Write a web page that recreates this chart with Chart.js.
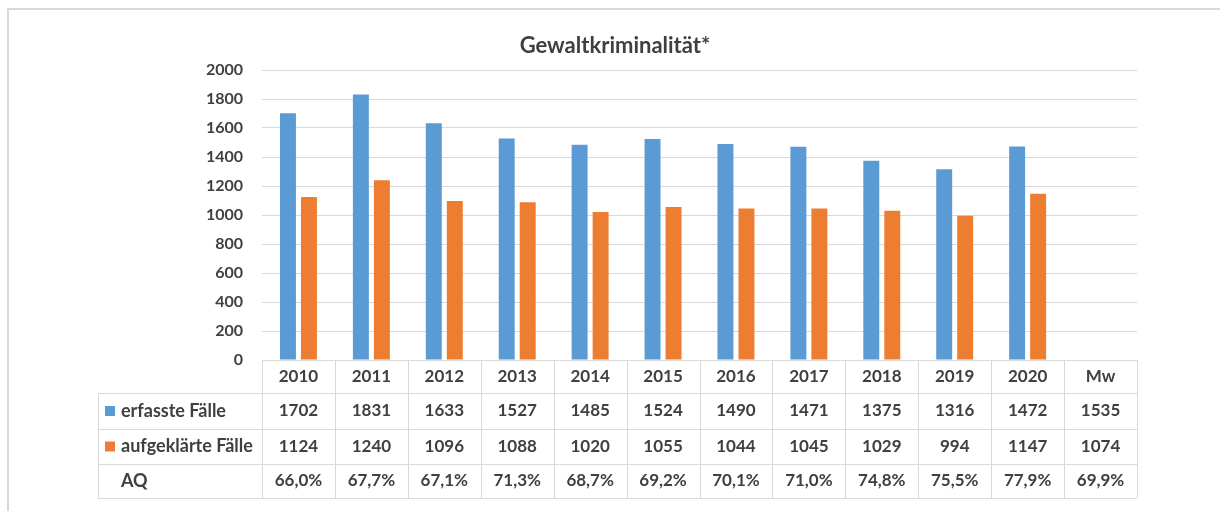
<!DOCTYPE html>
<html>
<head>
<meta charset="utf-8">
<script src="https://cdn.jsdelivr.net/npm/chart.js@4"></script>
<style>
  body { margin: 0; background: #fff; }
  canvas { display: block; }
</style>
</head>
<body>
<canvas id="chart" width="1220" height="511"></canvas>
<script>
// Daten aus der Tabelle unter dem Diagramm
const categories = ['2010', '2011', '2012', '2013', '2014', '2015', '2016', '2017', '2018', '2019', '2020', 'Mw'];
const erfassteFaelle = [1702, 1831, 1633, 1527, 1485, 1524, 1490, 1471, 1375, 1316, 1472];
const aufgeklaerteFaelle = [1124, 1240, 1096, 1088, 1020, 1055, 1044, 1045, 1029, 994, 1147];
const aufklaerungsquote = ['66,0%', '67,7%', '67,1%', '71,3%', '68,7%', '69,2%', '70,1%', '71,0%', '74,8%', '75,5%', '77,9%'];
const mwErfasst = 1535;
const mwAufgeklaert = 1074;
const mwQuote = '69,9%';
const yTicks = [0, 200, 400, 600, 800, 1000, 1200, 1400, 1600, 1800, 2000];

const blue = '#5b9bd5';
const orange = '#ed7d31';
const textColor = '#404040';
const lineColor = '#d9d9d9';
const font = 'Lato, "Noto Sans", sans-serif';

// Tabelle, Rahmen und Titel
const tablePlugin = {
    id: 'dataTable',
    afterDraw(chart) {
        const ctx = chart.ctx;
        const area = chart.chartArea;
        const x = chart.scales.x;
        const colW = (area.right - area.left) / categories.length;
        const rows = [360, 393, 429, 464, 498];
        const labelLeft = 98;

        ctx.save();
        // Rahmen
        ctx.strokeStyle = lineColor;
        ctx.lineWidth = 2;
        ctx.beginPath();
        ctx.moveTo(8, 511);
        ctx.lineTo(8, 9);
        ctx.lineTo(1220, 9);
        ctx.stroke();

        // Titel
        ctx.fillStyle = textColor;
        ctx.font = 'bold 22px ' + font;
        ctx.textAlign = 'center';
        ctx.textBaseline = 'middle';
        ctx.fillText('Gewaltkriminalität*', 615, 46);

        // Tabellenlinien
        ctx.lineWidth = 1;
        ctx.beginPath();
        ctx.moveTo(area.left, rows[0] + 0.5);
        ctx.lineTo(area.right, rows[0] + 0.5);
        for (let r = 1; r < rows.length; r++) {
            ctx.moveTo(labelLeft, rows[r] + 0.5);
            ctx.lineTo(area.right, rows[r] + 0.5);
        }
        ctx.moveTo(labelLeft + 0.5, rows[1]);
        ctx.lineTo(labelLeft + 0.5, rows[4]);
        for (let i = 0; i <= categories.length; i++) {
            const bx = Math.round(area.left + i * colW) + 0.5;
            ctx.moveTo(bx, rows[0]);
            ctx.lineTo(bx, rows[4]);
        }
        ctx.stroke();

        // Zellen
        const rowMid = r => (rows[r] + rows[r + 1]) / 2;
        ctx.font = 'bold 17px ' + font;
        ctx.textAlign = 'center';
        categories.forEach((cat, i) => {
            const cx = x.getPixelForValue(i);
            const last = i === categories.length - 1;
            ctx.fillText(cat, cx, rowMid(0));
            ctx.fillText(String(last ? mwErfasst : erfassteFaelle[i]), cx, rowMid(1));
            ctx.fillText(String(last ? mwAufgeklaert : aufgeklaerteFaelle[i]), cx, rowMid(2));
            ctx.fillText(last ? mwQuote : aufklaerungsquote[i], cx, rowMid(3));
        });

        // Legende in der Tabelle
        ctx.textAlign = 'left';
        ctx.fillStyle = blue;
        ctx.fillRect(105, rowMid(1) - 5, 10, 10);
        ctx.fillStyle = orange;
        ctx.fillRect(105, rowMid(2) - 5, 10, 10);
        ctx.fillStyle = textColor;
        ctx.font = 'bold 18px ' + font;
        ctx.fillText('erfasste Fälle', 121, rowMid(1));
        ctx.fillText('aufgeklärte Fälle', 121, rowMid(2));
        ctx.fillText('AQ', 121, rowMid(3));
        ctx.restore();
    }
};

new Chart(document.getElementById('chart'), {
    type: 'bar',
    data: {
        labels: categories,
        datasets: [{
            label: 'erfasste Fälle',
            data: erfassteFaelle,
            backgroundColor: blue,
            barPercentage: 0.76,
            categoryPercentage: 0.576
        }, {
            label: 'aufgeklärte Fälle',
            data: aufgeklaerteFaelle,
            backgroundColor: orange,
            barPercentage: 0.76,
            categoryPercentage: 0.576
        }]
    },
    options: {
        responsive: false,
        animation: false,
        layout: { padding: { top: 70, bottom: 151, right: 83, left: 0 } },
        plugins: {
            legend: { display: false },
            title: { display: false },
            tooltip: { enabled: false }
        },
        scales: {
            x: {
                grid: { display: false },
                border: { display: false },
                ticks: { display: false },
                afterFit: scale => { scale.height = 0; }
            },
            y: {
                min: 0,
                max: 2000,
                afterFit: scale => { scale.width = 262; },
                afterBuildTicks: scale => { scale.ticks = yTicks.map(v => ({ value: v })); },
                border: { display: false },
                grid: { color: lineColor, drawTicks: false },
                ticks: {
                    padding: 19,
                    color: textColor,
                    font: { family: font, size: 16, weight: 'bold' },
                    callback: value => String(value)
                }
            }
        }
    },
    plugins: [tablePlugin]
});
</script>
</body>
</html>
